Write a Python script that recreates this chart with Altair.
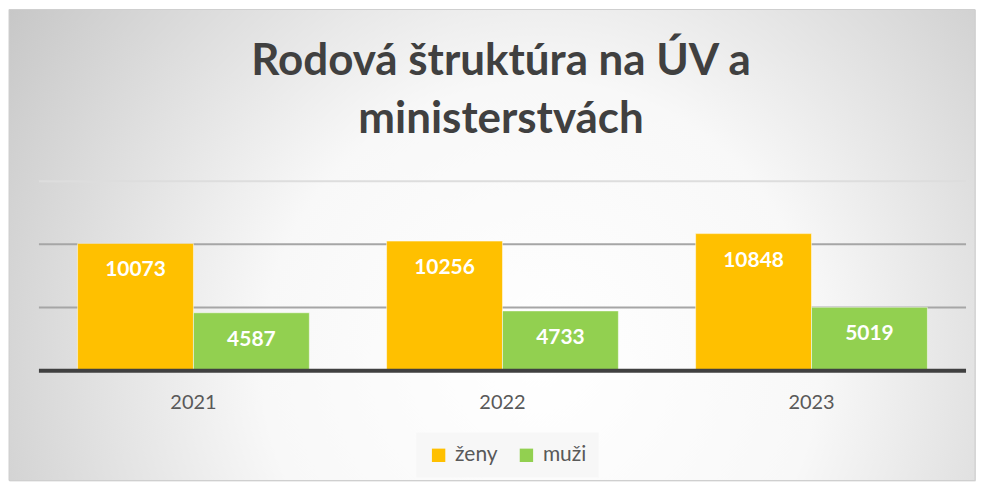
import altair as alt
import pandas as pd

years = ["2021", "2022", "2023"]
zeny = [10073, 10256, 10848]
muzi = [4587, 4733, 5019]
series = ["ženy", "muži"]
colors = ["#FFC000", "#92D050"]
grid_values = [5000, 10000, 15000]
title_lines = ["Rodová štruktúra na ÚV a", "ministerstvách"]

rows = []
for i, yr in enumerate(years):
    rows.append({"rok": yr, "pohlavie": series[0], "pocet": zeny[i]})
    rows.append({"rok": yr, "pohlavie": series[1], "pocet": muzi[i]})
df = pd.DataFrame(rows)

W, H = 968, 472
FONT = "Lato"

y_scale = alt.Scale(domain=[0, 15000], range=[362, 172])
x_scale = alt.Scale(domain=years, range=[30, 959], paddingInner=0.25, paddingOuter=0.125)
x_enc = alt.X("rok:N", sort=years, scale=x_scale, axis=None)
xoff_enc = alt.XOffset("pohlavie:N", sort=series,
                       scale=alt.Scale(paddingInner=0, paddingOuter=0))

gradient = {
    "gradient": "radial",
    "x1": 0.55, "y1": 0.62, "r1": 0,
    "x2": 0.55, "y2": 0.62, "r2": 0.72,
    "stops": [
        {"offset": 0, "color": "#ffffff"},
        {"offset": 0.4, "color": "#f8f8f8"},
        {"offset": 1, "color": "#bfbfbf"},
    ],
}

one = pd.DataFrame({"k": [0]})

bg = alt.Chart(one).mark_rect(fill=gradient, stroke="#cfcfcf", strokeWidth=1).encode(
    x=alt.value(0), x2=alt.value(W), y=alt.value(0), y2=alt.value(H))

title = alt.Chart(one).mark_text(
    baseline="top", align="center", fontSize=44, fontWeight="bold", font=FONT,
    color="#404040", lineHeight=58
).encode(text=alt.value(title_lines), x=alt.value(493), y=alt.value(31))

year_labels = alt.Chart(pd.DataFrame({"rok": years})).mark_text(
    baseline="middle", align="center", fontSize=20, font=FONT, color="#595959"
).encode(x=x_enc, y=alt.value(394), text="rok:N")

base = alt.Chart(df)

bars = base.mark_bar(stroke="#ffffff", strokeOpacity=0.5, strokeWidth=1).encode(
    x=x_enc,
    xOffset=xoff_enc,
    y=alt.Y("pocet:Q", scale=y_scale, axis=None),
    color=alt.Color(
        "pohlavie:N", sort=series,
        scale=alt.Scale(domain=series, range=colors),
        legend=alt.Legend(title=None, orient="none", legendX=408, legendY=424,
                          direction="horizontal", symbolType="square", symbolSize=180,
                          symbolStrokeWidth=0, labelFontSize=21, labelColor="#595959",
                          labelFont=FONT, fillColor="#f7f7f7", padding=12,
                          columnPadding=18, labelOffset=6),
    ),
)

labels = base.mark_text(dy=27, baseline="middle", align="center", color="#ffffff",
                        fontSize=21, fontWeight="bold", font=FONT).encode(
    x=x_enc,
    xOffset=xoff_enc,
    y=alt.Y("pocet:Q", scale=y_scale, axis=None),
    text=alt.Text("pocet:Q", format="d"),
)

grid = alt.Chart(pd.DataFrame({"gv": grid_values})).mark_rule(strokeWidth=2).encode(
    y=alt.Y("gv:Q", scale=y_scale, axis=None),
    x=alt.value(30), x2=alt.value(959),
    color=alt.condition("datum.gv >= 15000", alt.value("#dddddd"), alt.value("#a6a6a6")),
)

base_line = alt.Chart(pd.DataFrame({"v": [0]})).mark_rule(strokeWidth=4, color="#404040").encode(
    y=alt.Y("v:Q", scale=y_scale, axis=None),
    x=alt.value(30), x2=alt.value(959),
)

chart = alt.layer(bg, title, grid, bars, labels, base_line, year_labels).properties(
    width=W, height=H, padding=0,
).configure_view(stroke=None).configure(background="#ffffff")

chart.save("out.html", embed_options={"renderer": "svg", "actions": False})
